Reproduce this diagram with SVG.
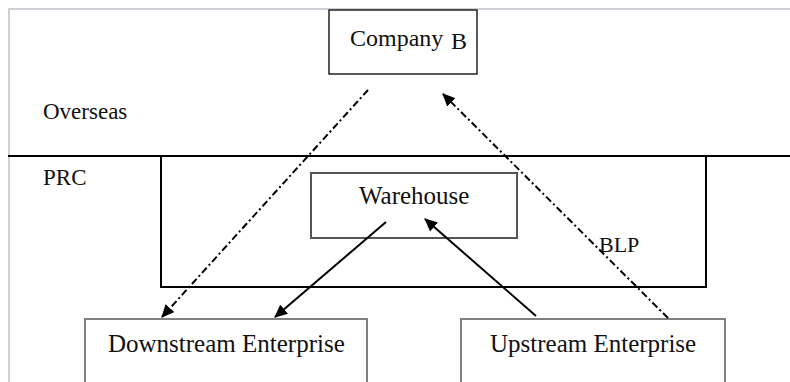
<svg xmlns="http://www.w3.org/2000/svg" width="790" height="382" viewBox="0 0 790 382">
<style>
text{fill:#111}
.lbl{font-size:25px}
.reg{font-size:23px}
.box{fill:#fff}
.conn{stroke:#000;stroke-width:2;fill:none}
.dd{stroke-dasharray:7 3 2 3}
</style>
<defs>
<marker id="ah" markerWidth="14" markerHeight="12" refX="12" refY="6" orient="auto" markerUnits="userSpaceOnUse">
<path d="M0,0 L13,6 L0,12 Z" fill="#000"/>
</marker>
</defs>
<rect x="0" y="0" width="790" height="382" fill="#fff"/>
<g font-family="'Liberation Serif', 'Times New Roman', 'DejaVu Serif', serif">
<g id="frame">
<line x1="8" y1="9" x2="790" y2="9" stroke="#d2cfd6" stroke-width="2"/>
<line x1="9" y1="8" x2="9" y2="382" stroke="#d2cfd6" stroke-width="2"/>
</g>
<g id="border">
<line x1="8" y1="156" x2="790" y2="156" stroke="#000" stroke-width="2"/>
<text class="reg" x="43" y="119">Overseas</text>
<text class="reg" x="43" y="185">PRC</text>
</g>
<g id="prc-zone">
<rect x="161" y="156" width="545" height="131" fill="none" stroke="#000" stroke-width="2"/>
</g>
<g id="company-b">
<rect class="box" x="329" y="10" width="148" height="64" stroke="#222" stroke-width="1.5"/>
<text x="350" y="46" font-size="24">Company</text>
<text x="451" y="48.5" font-size="24">B</text>
</g>
<g id="warehouse">
<rect class="box" x="311" y="173" width="206" height="65" stroke="#555" stroke-width="2"/>
<text class="lbl" x="359" y="204">Warehouse</text>
</g>
<g id="downstream">
<rect class="box" x="85" y="319" width="282" height="70" stroke="#808080" stroke-width="2"/>
<text class="lbl" x="108" y="352">Downstream Enterprise</text>
</g>
<g id="upstream">
<rect class="box" x="461" y="319" width="264" height="70" stroke="#808080" stroke-width="2"/>
<text class="lbl" x="490" y="352">Upstream Enterprise</text>
</g>
<g id="connectors">
<line class="conn dd" x1="368" y1="90" x2="162" y2="317" marker-end="url(#ah)"/>
<line class="conn dd" x1="668" y1="318" x2="443" y2="94" marker-end="url(#ah)"/>
<line class="conn" x1="386" y1="222" x2="275" y2="317" marker-end="url(#ah)"/>
<line class="conn" x1="536" y1="316" x2="425" y2="219" marker-end="url(#ah)"/>
<text x="599" y="252" font-size="22">BLP</text>
</g>
</g>
</svg>
